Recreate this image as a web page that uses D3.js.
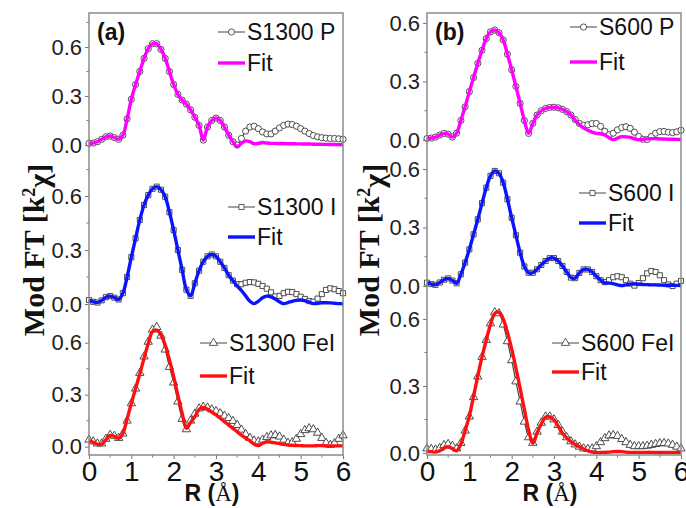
<!DOCTYPE html>
<html>
<head>
<meta charset="utf-8">
<script src="https://cdn.jsdelivr.net/npm/d3@7/dist/d3.min.js"></script>
<style>
  body { margin: 0; background: #fff; }
  svg { display: block; }
</style>
</head>
<body>
<svg width="686" height="508"></svg>
<script>
/*
    EXAFS |FT| panels, data + fit
*/

// R grid (Å)
var rValues = [0.0,0.1,0.2,0.3,0.4,0.5,0.6,0.7,0.8,0.9,1.0,1.1,1.2,1.3,1.4,1.5,1.6,1.7,1.8,1.9,
  2.0,2.1,2.2,2.3,2.4,2.5,2.6,2.7,2.8,2.9,3.0,3.1,3.2,3.3,3.4,3.5,3.6,3.7,3.8,3.9,
  4.0,4.1,4.2,4.3,4.4,4.5,4.6,4.7,4.8,4.9,5.0,5.1,5.2,5.3,5.4,5.5,5.6,5.7,5.8,5.9,6.0];

// panel (a)
var s1300P = [0.010,0.012,0.020,0.035,0.050,0.055,0.045,0.035,0.060,0.160,0.280,0.370,0.450,0.530,0.590,0.620,0.620,0.585,0.530,0.450,
  0.370,0.310,0.275,0.250,0.215,0.170,0.120,0.030,0.110,0.150,0.165,0.150,0.110,0.060,0.020,0.000,0.040,0.085,0.110,0.115,
  0.100,0.080,0.068,0.068,0.085,0.105,0.120,0.128,0.125,0.115,0.100,0.085,0.070,0.058,0.050,0.045,0.042,0.040,0.040,0.038,0.035];
var s1300PFit = [0.010,0.012,0.020,0.035,0.050,0.055,0.045,0.035,0.060,0.160,0.280,0.370,0.450,0.530,0.590,0.620,0.620,0.585,0.530,0.450,
  0.370,0.310,0.275,0.250,0.215,0.170,0.120,0.030,0.110,0.150,0.165,0.150,0.110,0.060,0.020,-0.010,0.010,0.025,0.020,0.008,
  0.010,0.015,0.012,0.010,0.010,0.009,0.009,0.008,0.008,0.007,0.007,0.006,0.006,0.005,0.005,0.004,0.004,0.003,0.003,0.002,0.002];

var s1300I = [0.022,0.012,0.008,0.020,0.038,0.044,0.035,0.025,0.060,0.150,0.260,0.365,0.467,0.550,0.605,0.640,0.652,0.635,0.596,0.510,
  0.410,0.300,0.190,0.080,0.045,0.115,0.185,0.235,0.265,0.275,0.265,0.235,0.200,0.160,0.130,0.110,0.110,0.118,0.122,0.120,
  0.112,0.100,0.085,0.065,0.042,0.045,0.060,0.068,0.066,0.055,0.040,0.028,0.016,0.013,0.030,0.055,0.078,0.087,0.082,0.072,0.060];
var s1300IFit = [0.022,0.012,0.008,0.020,0.038,0.044,0.035,0.025,0.060,0.150,0.260,0.365,0.467,0.550,0.605,0.640,0.652,0.635,0.596,0.510,
  0.410,0.300,0.190,0.080,0.045,0.115,0.185,0.235,0.265,0.275,0.265,0.235,0.200,0.160,0.130,0.100,0.075,0.045,0.015,0.002,
  0.015,0.035,0.044,0.040,0.028,0.012,0.002,0.008,0.015,0.020,0.022,0.018,0.010,0.002,0.004,0.007,0.007,0.006,0.004,0.002,0.001];

var s1300FeI = [0.040,0.030,0.018,0.018,0.045,0.068,0.062,0.050,0.075,0.150,0.250,0.335,0.425,0.520,0.605,0.675,0.690,0.640,0.560,0.460,
  0.370,0.260,0.160,0.100,0.150,0.190,0.220,0.230,0.225,0.215,0.205,0.192,0.178,0.165,0.148,0.125,0.098,0.072,0.050,0.035,
  0.030,0.040,0.055,0.065,0.067,0.058,0.040,0.022,0.025,0.045,0.072,0.095,0.106,0.100,0.080,0.050,0.022,0.010,0.020,0.045,0.065];
var s1300FeIFit = [0.035,0.025,0.015,0.015,0.040,0.065,0.060,0.048,0.077,0.160,0.250,0.335,0.420,0.510,0.595,0.665,0.672,0.645,0.587,0.500,
  0.404,0.295,0.193,0.106,0.140,0.173,0.215,0.226,0.216,0.200,0.183,0.164,0.144,0.125,0.106,0.086,0.067,0.050,0.035,0.015,
  0.006,0.020,0.028,0.026,0.022,0.018,0.013,0.010,0.008,0.007,0.006,0.005,0.005,0.005,0.006,0.006,0.005,0.005,0.005,0.005,0.005];

// panel (b)
var s600P = [0.008,0.010,0.015,0.025,0.034,0.030,0.015,0.035,0.100,0.170,0.248,0.320,0.393,0.460,0.520,0.555,0.564,0.550,0.513,0.440,
  0.360,0.275,0.188,0.100,0.034,0.085,0.128,0.150,0.162,0.167,0.168,0.165,0.157,0.145,0.128,0.105,0.085,0.075,0.078,0.084,
  0.085,0.070,0.045,0.027,0.035,0.052,0.064,0.068,0.060,0.040,0.018,0.004,0.002,0.018,0.035,0.043,0.044,0.040,0.038,0.042,0.050];
var s600PFit = [0.008,0.010,0.015,0.025,0.034,0.030,0.015,0.035,0.100,0.170,0.248,0.320,0.393,0.460,0.520,0.555,0.564,0.550,0.513,0.440,
  0.360,0.275,0.188,0.100,0.034,0.085,0.128,0.150,0.162,0.167,0.168,0.165,0.157,0.145,0.128,0.102,0.080,0.062,0.050,0.040,
  0.034,0.032,0.026,0.012,0.002,0.010,0.017,0.016,0.013,0.006,0.001,0.004,0.006,0.007,0.007,0.006,0.005,0.004,0.004,0.003,0.003];

var s600I = [0.017,0.010,0.006,0.018,0.032,0.039,0.028,0.014,0.060,0.120,0.188,0.265,0.342,0.425,0.504,0.565,0.590,0.578,0.530,0.445,
  0.350,0.260,0.171,0.100,0.068,0.068,0.086,0.108,0.128,0.143,0.143,0.128,0.103,0.072,0.043,0.040,0.067,0.085,0.085,0.072,
  0.050,0.030,0.020,0.030,0.045,0.050,0.045,0.030,0.012,0.002,0.015,0.040,0.065,0.077,0.072,0.055,0.030,0.008,0.000,0.012,0.026];
var s600IFit = [0.017,0.010,0.006,0.018,0.032,0.039,0.028,0.014,0.060,0.120,0.188,0.265,0.342,0.425,0.504,0.565,0.590,0.578,0.530,0.445,
  0.350,0.260,0.171,0.100,0.068,0.068,0.086,0.108,0.128,0.143,0.143,0.128,0.103,0.072,0.043,0.040,0.067,0.085,0.085,0.072,
  0.050,0.030,0.016,0.015,0.012,0.006,0.002,0.006,0.010,0.010,0.010,0.008,0.007,0.006,0.006,0.005,0.004,0.004,0.003,0.003,0.002];

var s600FeI = [0.020,0.018,0.015,0.022,0.035,0.040,0.032,0.020,0.045,0.100,0.163,0.250,0.342,0.430,0.506,0.580,0.630,0.625,0.575,0.500,
  0.415,0.320,0.230,0.140,0.070,0.045,0.095,0.135,0.163,0.163,0.150,0.125,0.095,0.070,0.052,0.038,0.028,0.020,0.018,0.020,
  0.030,0.048,0.066,0.078,0.080,0.076,0.062,0.048,0.036,0.030,0.030,0.030,0.032,0.036,0.040,0.043,0.044,0.042,0.036,0.028,0.020];
var s600FeIFit = [0.008,0.006,0.004,0.010,0.022,0.028,0.020,0.010,0.040,0.100,0.165,0.255,0.345,0.430,0.506,0.575,0.625,0.630,0.600,0.540,
  0.466,0.380,0.290,0.195,0.103,0.043,0.090,0.130,0.160,0.162,0.148,0.120,0.088,0.068,0.051,0.038,0.028,0.018,0.010,0.004,
  0.002,0.002,0.003,0.004,0.006,0.007,0.006,0.004,0.003,0.003,0.003,0.003,0.003,0.003,0.002,0.002,0.002,0.002,0.002,0.002,0.002];

var sampleNames = [["S1300 P", "S1300 I", "S1300 FeI"], ["S600 P", "S600 I", "S600 FeI"]];
var panelLabels = ["(a)", "(b)"];
var xTickValues = [0, 1, 2, 3, 4, 5, 6];
var yTickValues = [0.0, 0.3, 0.6];
var fitLabel = "Fit";


var svg = d3.select("svg");
var fitColors = ["#ff00ff", "#0a14ff", "#ff1010"];
var markerTypes = [d3.symbolCircle, d3.symbolSquare, d3.symbolTriangle];
var markerSizes = [30, 26, 30];

// frame / sub-plot layout (pixel), y0 = where 0.0 sits, y6 = where 0.6 sits
var panels = [
  { x0: 89, x1: 343, top: 13, bottom: 455, titleX: 33,
    subs: [ {y0: 145, y6: 47, bTop: 13, bBot: 172},
            {y0: 304, y6: 196, bTop: 172, bBot: 322},
            {y0: 446.7, y6: 342.7, bTop: 322, bBot: 455} ],
    legend: [ {x: 218, y: 32, fy: 63}, {x: 228, y: 207, fy: 237}, {x: 200, y: 343, fy: 376} ],
    data: [[s1300P, s1300PFit], [s1300I, s1300IFit], [s1300FeI, s1300FeIFit]] },
  { x0: 427, x1: 681, top: 13, bottom: 455, titleX: 368,
    subs: [ {y0: 140, y6: 23, bTop: 13, bBot: 155},
            {y0: 286, y6: 169, bTop: 155, bBot: 302},
            {y0: 453, y6: 319, bTop: 302, bBot: 455} ],
    legend: [ {x: 570, y: 27, fy: 62}, {x: 579, y: 193, fy: 223}, {x: 552, y: 343, fy: 372} ],
    data: [[s600P, s600PFit], [s600I, s600IFit], [s600FeI, s600FeIFit]] }
];

var sansFont = "'Liberation Sans', Arial, sans-serif";
var serifFont = "'Liberation Serif', 'Times New Roman', serif";

panels.forEach(function(p, pi) {

  var x = d3.scaleLinear().domain([0, 6]).range([p.x0, p.x1]);
  var g = svg.append("g");

  // curves for each stacked sub-plot
  p.subs.forEach(function(s, si) {
    var y = d3.scaleLinear().domain([0, 0.6]).range([s.y0, s.y6]);
    var pts = p.data[si][0].map(function(v, i) { return {r: rValues[i], v: v}; });
    var fit = p.data[si][1].map(function(v, i) { return {r: rValues[i], v: v}; });

    var line = d3.line()
        .curve(d3.curveCatmullRom)
        .x(function(d) { return x(d.r); })
        .y(function(d) { return y(d.v); });

    g.append("path")
        .datum(pts)
        .attr("d", line)
        .attr("fill", "none")
        .attr("stroke", "#444")
        .attr("stroke-width", 1.2);

    var sym = d3.symbol().type(markerTypes[si]).size(markerSizes[si]);
    g.append("g").selectAll("path")
        .data(pts)
        .enter().append("path")
        .attr("d", sym)
        .attr("transform", function(d) { return "translate(" + x(d.r) + "," + y(d.v) + ")"; })
        .attr("fill", "#fff")
        .attr("stroke", "#3a3a3a")
        .attr("stroke-width", 0.9);

    g.append("path")
        .datum(fit)
        .attr("d", line)
        .attr("fill", "none")
        .attr("stroke", fitColors[si])
        .attr("stroke-width", 3.4)
        .attr("stroke-linejoin", "round");

    // y axis ticks (major + minor), only inside its own band
    var yAxis = g.append("g")
        .attr("transform", "translate(" + p.x0 + ",0)")
        .call(d3.axisLeft(y).tickValues(yTickValues).tickSize(4).tickPadding(3)
              .tickFormat(d3.format(".1f")));
    yAxis.select(".domain").remove();
    yAxis.selectAll("line").attr("stroke", "#777");
    yAxis.selectAll("text")
        .style("font", "22px " + sansFont)
        .attr("fill", "#222");

    [-0.15, 0.15, 0.45, 0.75].forEach(function(m) {
      var yy = y(m);
      if (yy > s.bTop + 2 && yy < s.bBot - 1) {
        g.append("line")
            .attr("x1", p.x0 - 2.5).attr("x2", p.x0)
            .attr("y1", yy).attr("y2", yy)
            .attr("stroke", "#777");
      }
    });

    // legend
    var L = p.legend[si];
    g.append("line")
        .attr("x1", L.x).attr("x2", L.x + 27)
        .attr("y1", L.y).attr("y2", L.y)
        .attr("stroke", "#444").attr("stroke-width", 1);
    g.append("path")
        .attr("d", sym)
        .attr("transform", "translate(" + (L.x + 13.5) + "," + L.y + ")")
        .attr("fill", "#fff").attr("stroke", "#333").attr("stroke-width", 0.8);
    g.append("text")
        .attr("x", L.x + 29).attr("y", L.y)
        .attr("dy", "0.36em")
        .style("font", "23px " + sansFont)
        .attr("fill", "#111")
        .text(sampleNames[pi][si]);

    g.append("line")
        .attr("x1", L.x).attr("x2", L.x + 27)
        .attr("y1", L.fy).attr("y2", L.fy)
        .attr("stroke", fitColors[si]).attr("stroke-width", 3.4);
    g.append("text")
        .attr("x", L.x + 29).attr("y", L.fy)
        .attr("dy", "0.36em")
        .style("font", "23px " + sansFont)
        .attr("fill", "#111")
        .text(fitLabel);
  });

  // bottom axis
  var xAxis = g.append("g")
      .attr("transform", "translate(0," + p.bottom + ")")
      .call(d3.axisBottom(x).tickValues(xTickValues).tickSize(4).tickPadding(2)
            .tickFormat(d3.format("d")));
  xAxis.select(".domain").remove();
  xAxis.selectAll("line").attr("stroke", "#777");
  xAxis.selectAll("text")
      .style("font", "28px " + sansFont)
      .attr("fill", "#111");

  d3.range(0.5, 6, 1).forEach(function(m) {
    g.append("line")
        .attr("x1", x(m)).attr("x2", x(m))
        .attr("y1", p.bottom).attr("y2", p.bottom + 2.5)
        .attr("stroke", "#777");
  });

  // frame
  g.append("rect")
      .attr("x", p.x0).attr("y", p.top)
      .attr("width", p.x1 - p.x0).attr("height", p.bottom - p.top)
      .attr("fill", "none")
      .attr("stroke", "#8a8a8a")
      .attr("stroke-width", 1.5);

  // panel label
  g.append("text")
      .attr("x", p.x0 + 8).attr("y", 40)
      .style("font", "bold 23px " + sansFont)
      .attr("fill", "#111")
      .text(panelLabels[pi]);

  // x title  R (Å)
  var xt = g.append("text")
      .attr("x", (p.x0 + p.x1) / 2 - 4).attr("y", 501)
      .attr("text-anchor", "middle")
      .attr("fill", "#111");
  xt.append("tspan").style("font", "bold 23px " + sansFont).text("R (");
  xt.append("tspan").style("font", "23px " + serifFont).text("Å");
  xt.append("tspan").style("font", "bold 23px " + sansFont).text(")");

  // y title  Mod FT [k²χ]
  var yt = g.append("text")
      .attr("transform", "translate(" + p.titleX + ",250) rotate(-90)")
      .attr("text-anchor", "middle")
      .attr("dy", "0.35em")
      .style("font", "bold 30px " + serifFont)
      .attr("fill", "#111");
  yt.append("tspan").text("Mod FT [k");
  yt.append("tspan").attr("dy", "-0.45em").style("font-size", "18px").text("2");
  yt.append("tspan").attr("dy", "0.45em").text("χ]");
});

</script>
</body>
</html>
